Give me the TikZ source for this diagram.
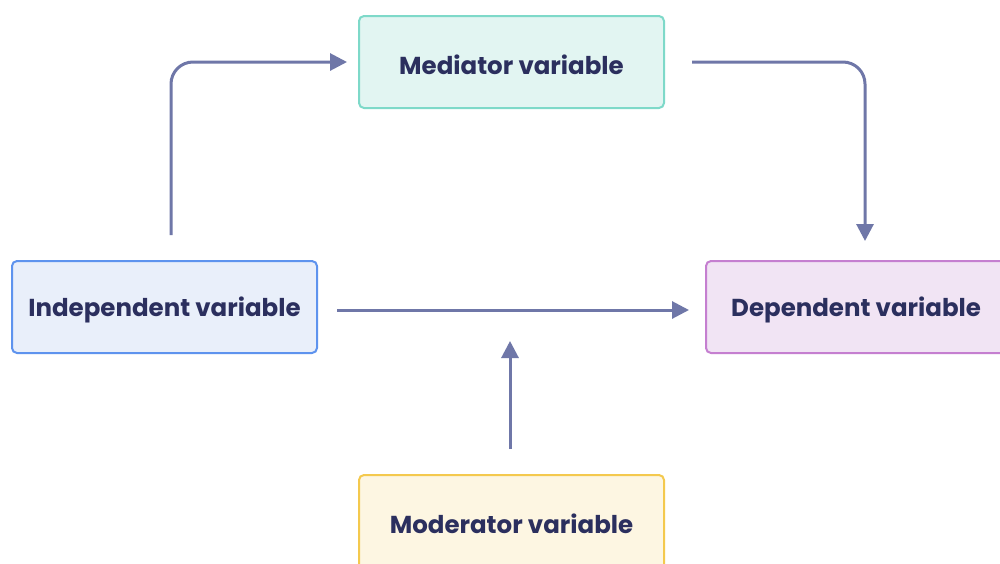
\documentclass[tikz,border=0pt]{standalone}
\usepackage{fontspec}
\setmainfont{Poppins}
\usetikzlibrary{arrows.meta}
\definecolor{txt}{HTML}{2B2F5E}
\definecolor{arr}{HTML}{6F77A8}
\definecolor{indF}{HTML}{E9EFFA}\definecolor{indD}{HTML}{5E93EE}
\definecolor{medF}{HTML}{E2F5F2}\definecolor{medD}{HTML}{7ED9C9}
\definecolor{depF}{HTML}{F1E4F4}\definecolor{depD}{HTML}{C57FD0}
\definecolor{modF}{HTML}{FDF6E2}\definecolor{modD}{HTML}{F4C94E}
\tikzset{
  lbl/.style={text=txt, font=\fontsize{24.5}{28}\selectfont\bfseries, inner sep=0pt},
  box/.style={draw, line width=2pt, rounded corners=5pt, inner sep=0pt},
  conn/.style={draw=arr, line width=3pt, rounded corners=22pt, -{Triangle[length=17pt,width=17pt]}},
}
\begin{document}
\begin{tikzpicture}[x=1pt,y=-1pt]
\useasboundingbox (0,0) rectangle (1000,563);
\clip (0,0) rectangle (1000,563);
\fill[white] (0,0) rectangle (1000,563);
\node[box, fill=indF, draw=indD, minimum width=305pt, minimum height=92pt] (ind) at (164.5,307) {};
\node[lbl] (indt) at (164.5,310) {Independent variable};
\node[box, fill=medF, draw=medD, minimum width=305pt, minimum height=92pt] (med) at (511.5,62) {};
\node[lbl] (medt) at (511.5,65) {Mediator variable};
\node[box, fill=depF, draw=depD, minimum width=320pt, minimum height=92pt] (dep) at (866,307) {};
\node[lbl, anchor=west] (dept) at (731,310) {Dependent variable};
\node[box, fill=modF, draw=modD, minimum width=305pt, minimum height=110pt] (mod) at (511.5,530) {};
\node[lbl] (modt) at (511.5,524) {Moderator variable};
\coordinate (a1) at (171,235);
\coordinate (a2) at (171,62);
\coordinate (a3) at (347,62);
\coordinate (b1) at (692,62);
\coordinate (b2) at (865,62);
\coordinate (b3) at (865,241);
\coordinate (c1) at (337,310);
\coordinate (c2) at (689,310);
\coordinate (d1) at (510,449);
\coordinate (d2) at (510,341);
\draw[conn] (a1) -- (a2) -- (a3);
\draw[conn] (b1) -- (b2) -- (b3);
\draw[conn] (c1) -- (c2);
\draw[conn] (d1) -- (d2);
\end{tikzpicture}
\end{document}
